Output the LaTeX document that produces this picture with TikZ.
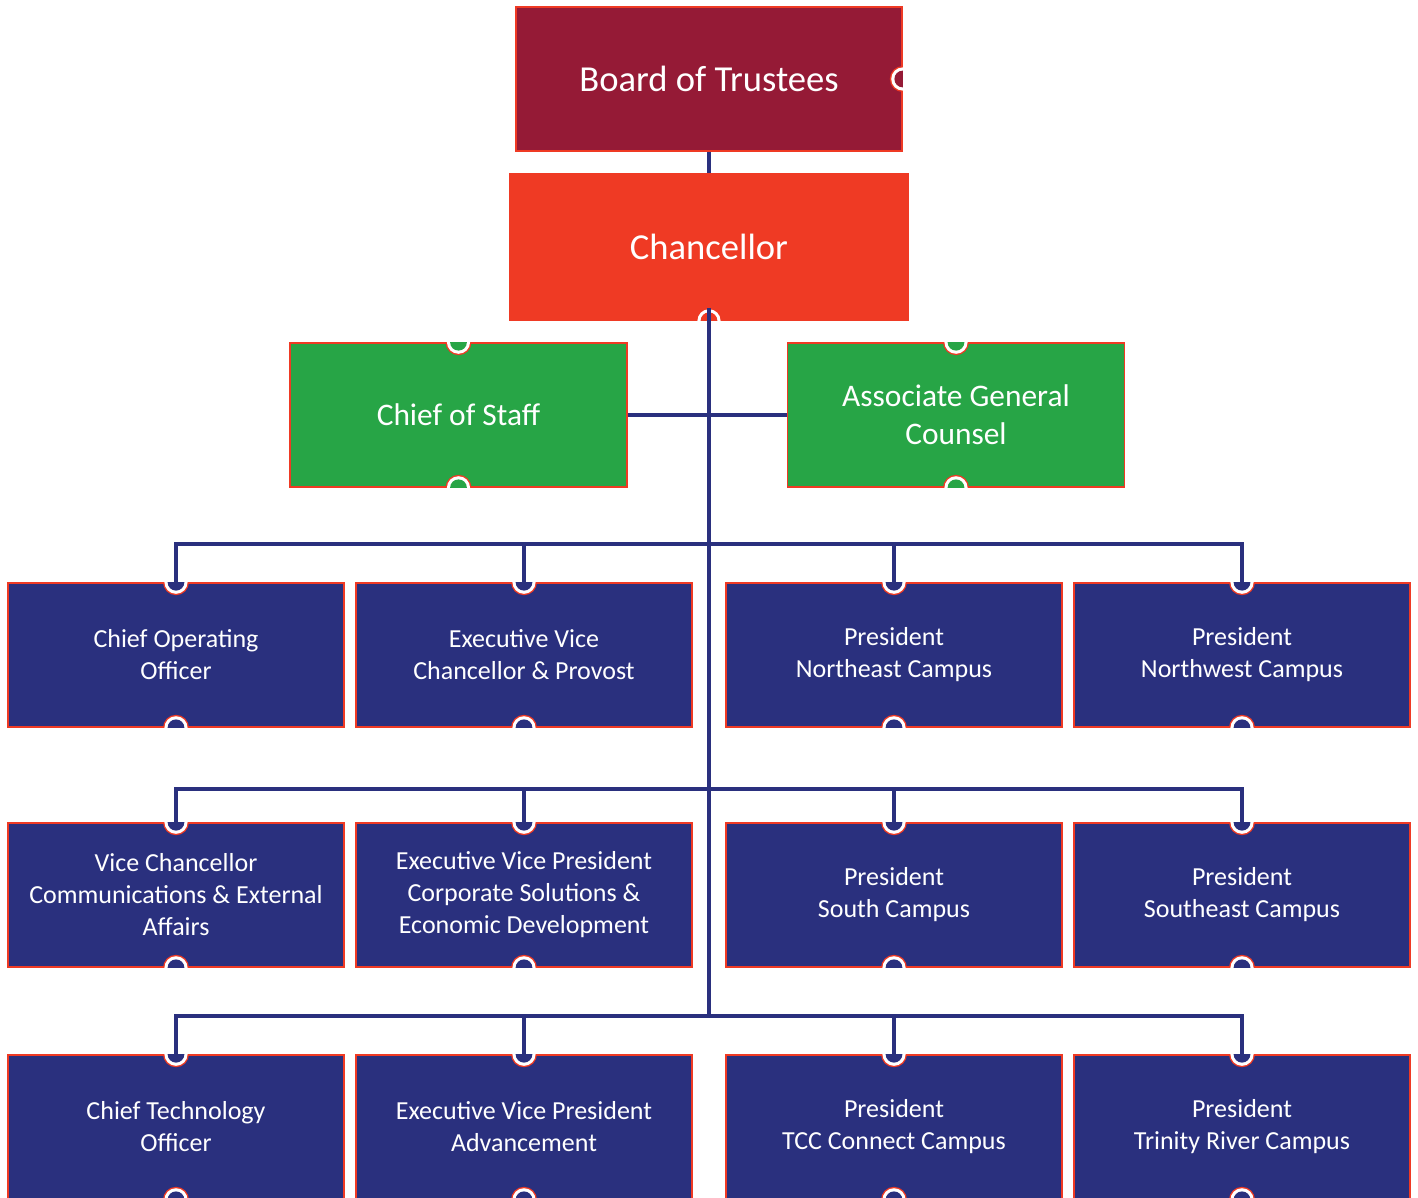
\documentclass[tikz,border=0pt]{standalone}
\usepackage{fontspec}
\setmainfont{Carlito}
\usetikzlibrary{positioning}

\definecolor{boardred}{HTML}{951A36}
\definecolor{chanred}{HTML}{EF3A24}
\definecolor{staffgreen}{HTML}{27A546}
\definecolor{navy}{HTML}{2A307E}
\definecolor{edgered}{HTML}{EF3A24}

% half circle marker on the edge of a box
\newcommand{\pin}[3]{%
\begin{scope}
\clip (#1.south west) rectangle (#1.north east);
\fill[edgered] (#1.#2) circle (6.5pt);
\fill[white] (#1.#2) circle (5.8pt);
\fill[#3] (#1.#2) circle (4.2pt);
\end{scope}}

\begin{document}
\begin{tikzpicture}[x=0.5pt,y=-0.5pt,
  box/.style={draw=edgered,line width=0.8pt,text=white,align=center,inner sep=0pt},
  topbox/.style={box,minimum height=72pt,font=\fontsize{18.3}{22}\selectfont},
  greenbox/.style={box,fill=staffgreen,minimum width=168.5pt,minimum height=72pt,font=\fontsize{15.7}{19}\selectfont},
  bluebox/.style={box,fill=navy,minimum width=168pt,minimum height=72pt,font=\fontsize{13}{16}\selectfont},
  link/.style={draw=navy,line width=1.7pt}]
\useasboundingbox (0,0) rectangle (1418,1198);

\node[topbox,fill=boardred,minimum width=193pt] (board) at (709,79) {Board of Trustees};
\node[topbox,fill=chanred,minimum width=199pt,minimum height=73pt] (chan) at (709,247) {Chancellor};

\node[greenbox] (staff) at (458.5,415) {Chief of Staff};
\node[greenbox] (counsel) at (956,415) {Associate General\\Counsel};

\node[bluebox] (coo) at (176,655) {Chief Operating\\Officer};
\node[bluebox] (provost) at (524,655) {Executive Vice\\Chancellor \& Provost};
\node[bluebox] (northeast) at (894,655) {President\\Northeast Campus};
\node[bluebox] (northwest) at (1242,655) {President\\Northwest Campus};

\node[bluebox] (vcomm) at (176,895) {Vice Chancellor\\Communications \& External\\Affairs};
\node[bluebox] (corporate) at (524,895) {Executive Vice President\\Corporate Solutions \&\\Economic Development};
\node[bluebox] (south) at (894,895) {President\\South Campus};
\node[bluebox] (southeast) at (1242,895) {President\\Southeast Campus};

\node[bluebox] (cto) at (176,1127) {Chief Technology\\Officer};
\node[bluebox] (advance) at (524,1127) {Executive Vice President\\Advancement};
\node[bluebox] (connect) at (894,1127) {President\\TCC Connect Campus};
\node[bluebox] (trinity) at (1242,1127) {President\\Trinity River Campus};

% markers
\pin{board}{east}{boardred}
\pin{chan}{south}{chanred}
\foreach \n in {staff,counsel}{
  \pin{\n}{north}{staffgreen}
  \pin{\n}{south}{staffgreen}
}
\foreach \n in {coo,provost,northeast,northwest,vcomm,corporate,south,southeast,cto,advance,connect,trinity}{
  \pin{\n}{north}{navy}
  \pin{\n}{south}{navy}
}

% connectors
\coordinate (bus1) at (709,544);
\coordinate (bus2) at (709,789);
\coordinate (bus3) at (709,1016);
\draw[link] (board.south) -- (chan.north);
\draw[link] ([yshift=6.5pt]chan.south) -- (bus3);
\draw[link] (staff.east) -- (counsel.west);

\draw[link] ([yshift=-2pt]coo.north) |- (bus1) -| ([yshift=-2pt]northwest.north);
\draw[link] ([yshift=-2pt]provost.north) -- (provost.north |- bus1);
\draw[link] ([yshift=-2pt]northeast.north) -- (northeast.north |- bus1);

\draw[link] ([yshift=-2pt]vcomm.north) |- (bus2) -| ([yshift=-2pt]southeast.north);
\draw[link] ([yshift=-2pt]corporate.north) -- (corporate.north |- bus2);
\draw[link] ([yshift=-2pt]south.north) -- (south.north |- bus2);

\draw[link] ([yshift=-2pt]cto.north) |- (bus3) -| ([yshift=-2pt]trinity.north);
\draw[link] ([yshift=-2pt]advance.north) -- (advance.north |- bus3);
\draw[link] ([yshift=-2pt]connect.north) -- (connect.north |- bus3);

\end{tikzpicture}
\end{document}
